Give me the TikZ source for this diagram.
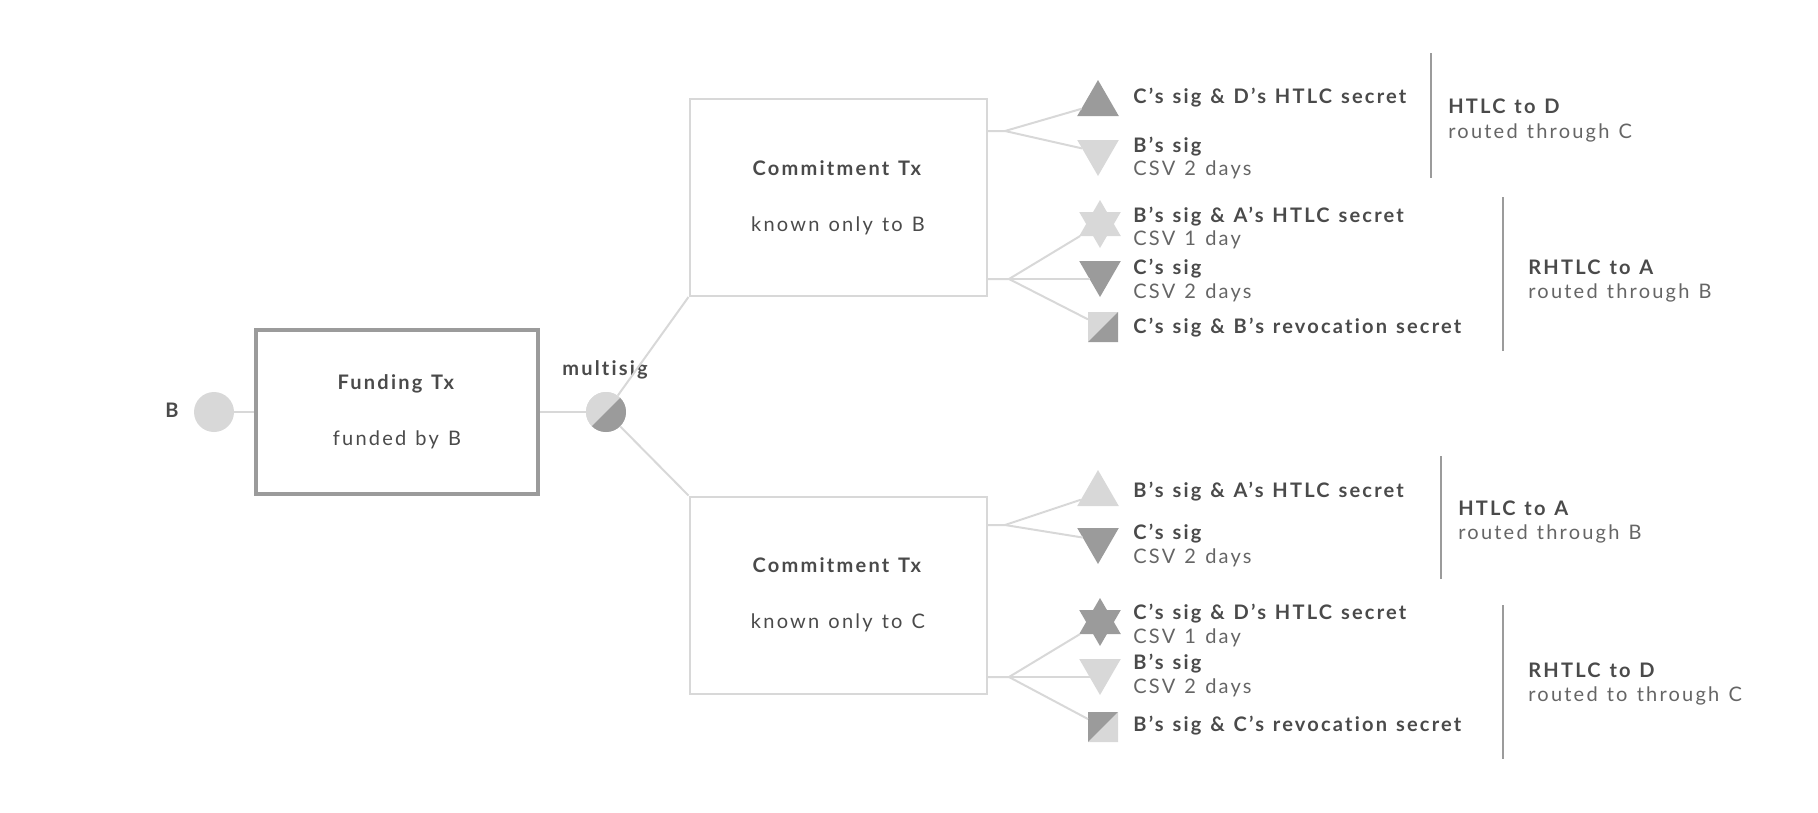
\documentclass[tikz,border=0pt]{standalone}
\usepackage{fontspec}
\setmainfont{Lato}[LetterSpace=11,Ligatures=NoCommon,WordSpace=1.25]
\usepackage{xcolor}
\usetikzlibrary{positioning,shapes.geometric}
\definecolor{lite}{HTML}{D8D8D8}
\definecolor{dark}{HTML}{9B9B9B}
\definecolor{ink}{HTML}{4A4A4A}
\def\s{0.02}

\begin{document}
\begin{tikzpicture}[
    x=\s cm, y=-\s cm,
    wire/.style={draw=lite, line width=2*\s cm},
    rule/.style={draw=dark, line width=2*\s cm},
    txbox/.style={rectangle, draw=lite, line width=2*\s cm, minimum width=297*\s cm, minimum height=197*\s cm, align=center, font=\fontsize{11.4}{31.7}\selectfont, text=ink},
    dot/.style={circle, fill=#1, inner sep=0pt, minimum size=40*\s cm},
    up/.style={regular polygon, regular polygon sides=3, fill=#1, inner sep=0pt, outer sep=0pt, minimum size=48*\s cm},
    down/.style={up=#1, shape border rotate=180},
    sixstar/.style={star, star points=6, star point ratio=1.732, fill=#1, inner sep=0pt, outer sep=0pt, minimum size=48*\s cm},
    split/.style 2 args={path picture={
        \fill[#1] (path picture bounding box.south west) rectangle (path picture bounding box.north east);
        \fill[#2] (path picture bounding box.north east) -- (path picture bounding box.south east) -- (path picture bounding box.south west) -- cycle;}},
    half/.style 2 args={rectangle, split={#1}{#2}, inner sep=0pt, outer sep=0pt, minimum size=30*\s cm},
    head/.style={anchor=base west, inner sep=0pt, text=ink, font=\fontsize{11.4}{13}\selectfont\bfseries},
    note/.style={anchor=base west, inner sep=0pt, text=ink!85, font=\fontsize{11.4}{13}\selectfont},
]
\useasboundingbox (0,0) rectangle (1818,812);

% funding side
\node[dot=lite] (b) at (214,412) {};
\node[head, anchor=base] (blabel) at (172,417) {B};
\node[rectangle, draw=dark, line width=4*\s cm, minimum width=282*\s cm, minimum height=164*\s cm, align=center, font=\fontsize{11.4}{31.7}\selectfont, text=ink] (funding) at (397,412) {\textbf{Funding Tx}\\funded by B};
\node[dot=lite, circle, split={lite}{dark}] (multisig) at (606,412) {};
\node[head, anchor=base] (msiglabel) at (605,375) {multisig};

% commitments
\node[txbox] (commitb) at (838,197.5) {\textbf{Commitment Tx}\\known only to B};
\node[txbox] (commitc) at (838,595) {\textbf{Commitment Tx}\\known only to C};

% outputs of commitb
\node[up=dark] (o1) at (1098,104) {};
\node[down=lite] (o2) at (1098,152) {};
\node[sixstar=lite] (o3) at (1100,224) {};
\node[down=dark] (o4) at (1100,273) {};
\node[half={lite}{dark}] (o5) at (1103,327) {};

% outputs of commitc
\node[up=lite] (o6) at (1098,494) {};
\node[down=dark] (o7) at (1098,540) {};
\node[sixstar=dark] (o8) at (1100,622) {};
\node[down=lite] (o9) at (1100,671) {};
\node[half={dark}{lite}] (o10) at (1103,727) {};

\coordinate (j1) at (1005,131);
\coordinate (j2) at (1009,279);
\coordinate (j3) at (1005,525);
\coordinate (j4) at (1009,677);
\coordinate (s1) at (commitb.east |- j1);
\coordinate (s2) at (commitb.east |- j2);
\coordinate (s3) at (commitc.east |- j3);
\coordinate (s4) at (commitc.east |- j4);
\coordinate (p4) at (1090,279);
\coordinate (p9) at (1090,677);

\draw[wire] (b) -- (funding);
\draw[wire] (funding) -- (multisig);
\draw[wire] (multisig) -- (commitb.south west);
\draw[wire] (multisig) -- (commitc.north west);
\draw[wire] (s1) -- (j1) -- (o1);
\draw[wire] (j1) -- (o2);
\draw[wire] (s2) -- (j2) -- (o3);
\draw[wire] (j2) -- (p4);
\draw[wire] (j2) -- (o5);
\draw[wire] (s3) -- (j3) -- (o6);
\draw[wire] (j3) -- (o7);
\draw[wire] (s4) -- (j4) -- (o8);
\draw[wire] (j4) -- (p9);
\draw[wire] (j4) -- (o10);

% output labels
\node[head] (t1) at (1133,103) {C’s sig \& D’s HTLC secret};
\node[head] (t2) at (1133,152) {B’s sig};
\node[note] (t2b) at (1133,175) {CSV 2 days};
\node[head] (t3) at (1133,222) {B’s sig \& A’s HTLC secret};
\node[note] (t3b) at (1133,245) {CSV 1 day};
\node[head] (t4) at (1133,274) {C’s sig};
\node[note] (t4b) at (1133,298) {CSV 2 days};
\node[head] (t5) at (1133,333) {C’s sig \& B’s revocation secret};
\node[head] (t6) at (1133,497) {B’s sig \& A’s HTLC secret};
\node[head] (t7) at (1133,539) {C’s sig};
\node[note] (t7b) at (1133,563) {CSV 2 days};
\node[head] (t8) at (1133,619) {C’s sig \& D’s HTLC secret};
\node[note] (t8b) at (1133,643) {CSV 1 day};
\node[head] (t9) at (1133,669) {B’s sig};
\node[note] (t9b) at (1133,693) {CSV 2 days};
\node[head] (t10) at (1133,731) {B’s sig \& C’s revocation secret};

% brackets
\coordinate (r1a) at (1431,53);  \coordinate (r1b) at (1431,178);
\coordinate (r2a) at (1503,197); \coordinate (r2b) at (1503,351);
\coordinate (r3a) at (1441,456); \coordinate (r3b) at (1441,579);
\coordinate (r4a) at (1503,605); \coordinate (r4b) at (1503,759);
\draw[rule] (r1a) -- (r1b);
\draw[rule] (r2a) -- (r2b);
\draw[rule] (r3a) -- (r3b);
\draw[rule] (r4a) -- (r4b);

\node[head] (h1) at (1448,113) {HTLC to D};
\node[note] (h1b) at (1448,138) {routed through C};
\node[head] (h2) at (1528,274) {RHTLC to A};
\node[note] (h2b) at (1528,298) {routed through B};
\node[head] (h3) at (1458,515) {HTLC to A};
\node[note] (h3b) at (1458,539) {routed through B};
\node[head] (h4) at (1528,677) {RHTLC to D};
\node[note] (h4b) at (1528,701) {routed to through C};
\end{tikzpicture}
\end{document}
